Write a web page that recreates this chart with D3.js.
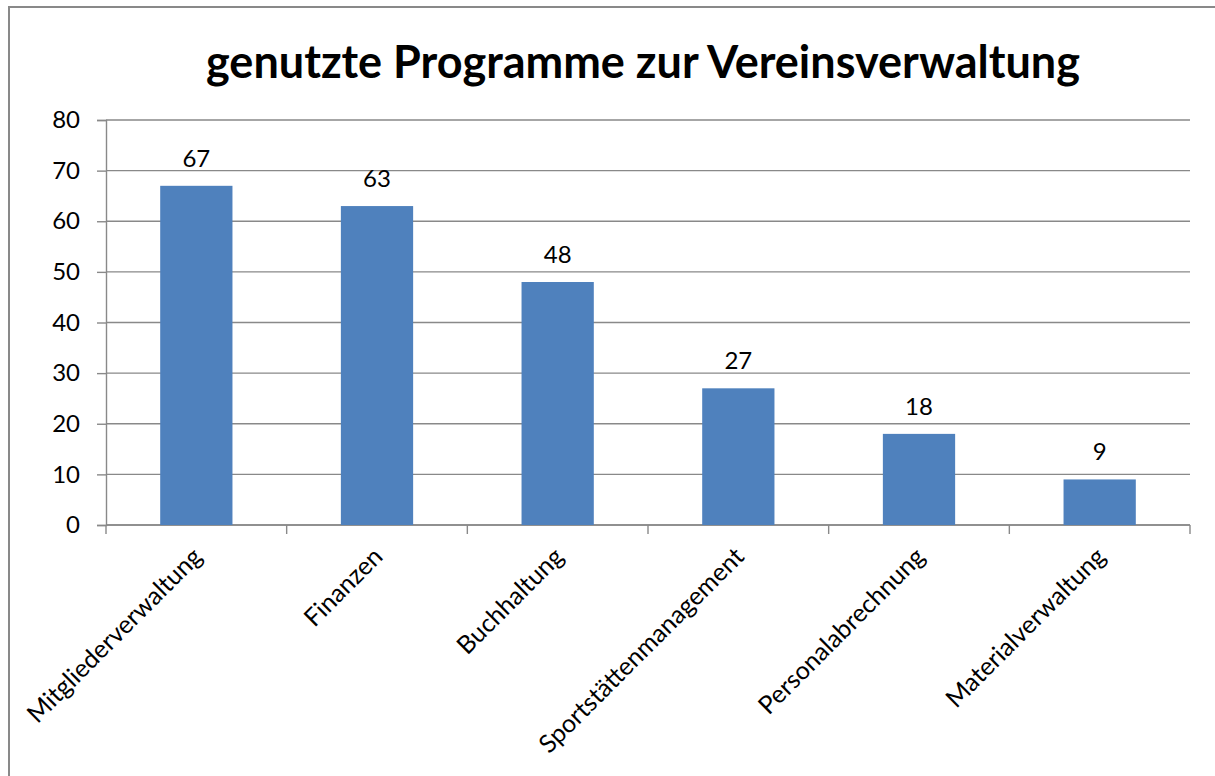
<!DOCTYPE html>
<html>
<head>
<meta charset="utf-8">
<script src="https://cdn.jsdelivr.net/npm/d3@7"></script>
<style>
  body { margin: 0; background: #fff; }
  svg { display: block; font-family: Lato, "Open Sans", sans-serif; }
</style>
</head>
<body>
<svg id="chart" width="1215" height="776"></svg>
<script>
// data
var titleText = "genutzte Programme zur Vereinsverwaltung";
var categories = ["Mitgliederverwaltung", "Finanzen", "Buchhaltung",
                  "Sportstättenmanagement", "Personalabrechnung", "Materialverwaltung"];
var counts = [67, 63, 48, 27, 18, 9];
var yTicks = [0, 10, 20, 30, 40, 50, 60, 70, 80];

var svg = d3.select("#chart"),
    width = +svg.attr("width"),
    height = +svg.attr("height");

var plot = { left: 106, right: 1190, top: 120, bottom: 525 };
var gridColor = "#898989";
var barColor = "#4f81bd";
var labelSize = "24px";

// outer frame of the chart area (right and bottom edge fall outside the picture)
svg.append("rect")
    .attr("x", 9).attr("y", 7)
    .attr("width", width + 50).attr("height", height + 50)
    .attr("fill", "none")
    .attr("stroke", gridColor)
    .attr("stroke-width", 2);

svg.append("text")
    .attr("x", 643)
    .attr("y", 78)
    .attr("text-anchor", "middle")
    .style("font-weight", "bold")
    .style("font-size", "45px")
    .text(titleText);

var x = d3.scaleBand()
    .domain(categories)
    .range([plot.left, plot.right])
    .paddingInner(0.6)
    .paddingOuter(0.3);

var y = d3.scaleLinear()
    .domain([0, 80])
    .range([plot.bottom, plot.top]);

// horizontal grid
svg.append("g")
    .selectAll("line")
    .data(yTicks)
    .enter().append("line")
    .attr("x1", plot.left)
    .attr("x2", plot.right)
    .attr("y1", function(d) { return y(d); })
    .attr("y2", function(d) { return y(d); })
    .attr("stroke", gridColor)
    .attr("stroke-width", 1.4);

// y axis
var yAxis = svg.append("g")
    .attr("transform", "translate(" + plot.left + ",0)")
    .call(d3.axisLeft(y).tickValues(yTicks).tickSize(9).tickPadding(17));
yAxis.select(".domain").attr("stroke", gridColor).attr("stroke-width", 1.4);
yAxis.selectAll(".tick line").attr("stroke", gridColor).attr("stroke-width", 1.4);
yAxis.selectAll(".tick text")
    .attr("fill", "#000")
    .style("font-size", labelSize)
    .style("font-family", "Lato, sans-serif");

// x axis: baseline and ticks on the category boundaries
var step = x.step();
var bounds = d3.range(categories.length + 1).map(function(i) { return plot.left + i * step; });
var xAxis = svg.append("g");
xAxis.append("line")
    .attr("x1", plot.left).attr("x2", plot.right)
    .attr("y1", plot.bottom).attr("y2", plot.bottom)
    .attr("stroke", gridColor).attr("stroke-width", 1.4);
xAxis.selectAll(".xtick")
    .data(bounds)
    .enter().append("line")
    .attr("class", "xtick")
    .attr("x1", function(d) { return d; })
    .attr("x2", function(d) { return d; })
    .attr("y1", plot.bottom)
    .attr("y2", plot.bottom + 9)
    .attr("stroke", gridColor).attr("stroke-width", 1.4);

xAxis.selectAll(".xlabel")
    .data(categories)
    .enter().append("text")
    .attr("class", "xlabel")
    .attr("text-anchor", "end")
    .attr("dy", "0.35em")
    .attr("transform", function(d) {
        return "translate(" + (x(d) + x.bandwidth() / 2 + 1) + "," + (plot.bottom + 27) + ") rotate(-45)";
    })
    .style("font-size", "25px")
    .text(function(d) { return d; });

// bars
var data = categories.map(function(c, i) { return { name: c, value: counts[i] }; });

svg.append("g")
    .selectAll("rect")
    .data(data)
    .enter().append("rect")
    .attr("x", function(d) { return x(d.name); })
    .attr("y", function(d) { return y(d.value); })
    .attr("width", x.bandwidth())
    .attr("height", function(d) { return y(0) - y(d.value); })
    .attr("fill", barColor);

// value labels
svg.append("g")
    .selectAll("text")
    .data(data)
    .enter().append("text")
    .attr("x", function(d) { return x(d.name) + x.bandwidth() / 2; })
    .attr("y", function(d) { return y(d.value) - 19; })
    .attr("text-anchor", "middle")
    .style("font-size", labelSize)
    .text(function(d) { return d.value; });
</script>
</body>
</html>
